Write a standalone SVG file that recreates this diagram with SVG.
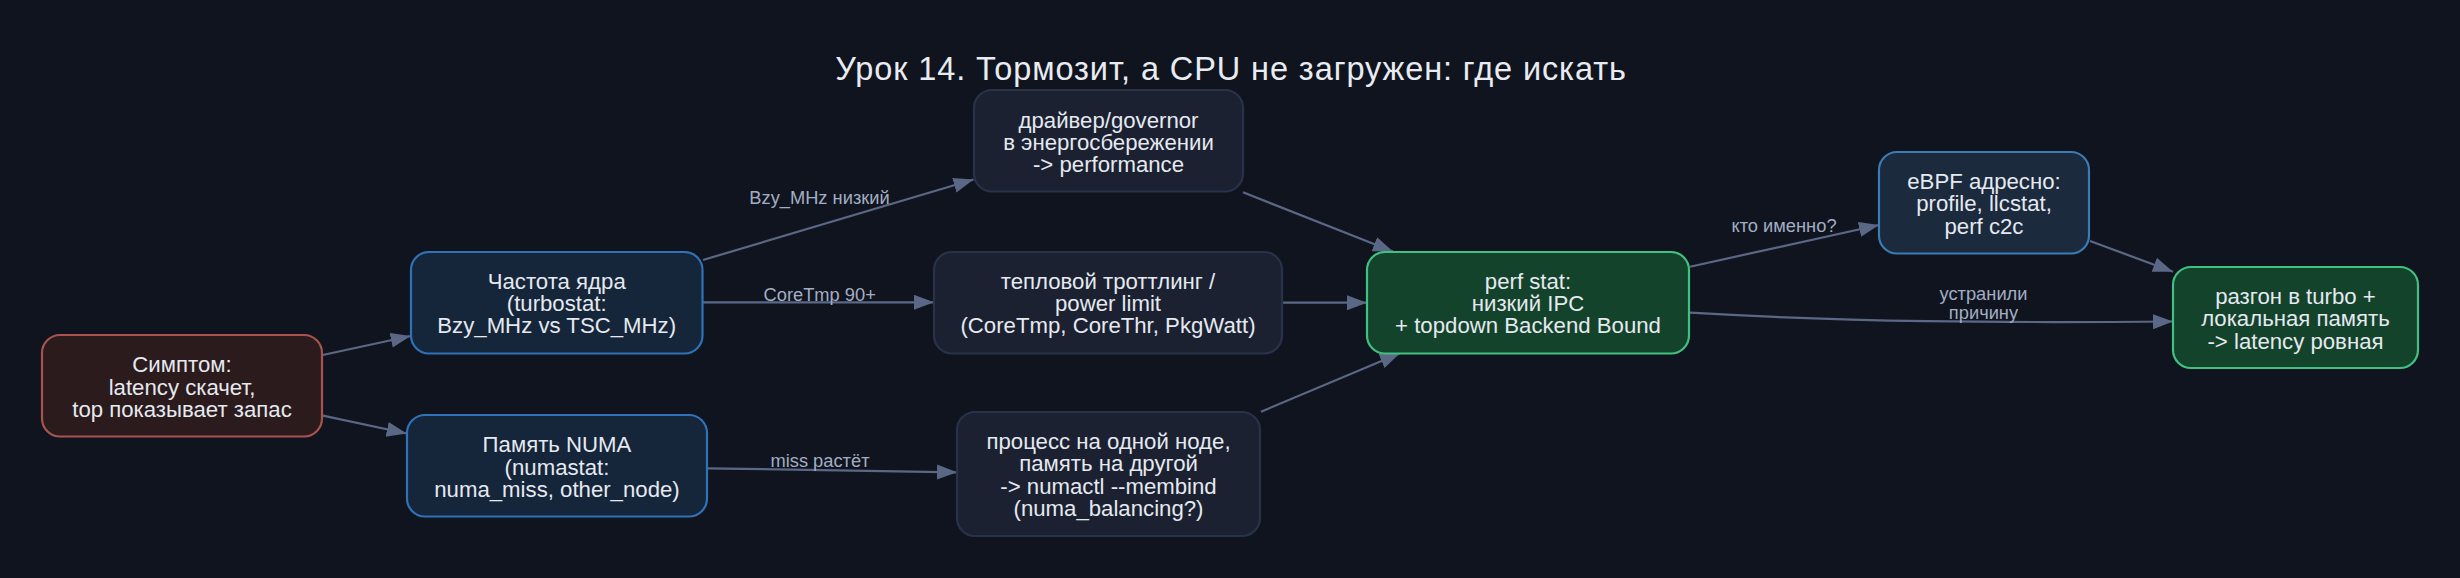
<svg xmlns="http://www.w3.org/2000/svg" width="2460" height="578" viewBox="0 0 2460 578">
<style>
  .node rect { stroke-width: 2.2; }
  .t { font-family: "Liberation Sans", Arial, sans-serif; font-size: 22.2px; fill: #e5e9f0; text-anchor: middle; }
  .title { font-family: "Liberation Sans", Arial, sans-serif; font-size: 32.5px; letter-spacing: 0.9px; fill: #e8ecf2; text-anchor: middle; }
  .lbl { font-family: "Liberation Sans", Arial, sans-serif; font-size: 18.3px; fill: #a3aec4; text-anchor: middle; }
  .edge { fill: none; stroke: #5a6886; stroke-width: 2.2; marker-end: url(#arr); }
  .sym { fill: #2c1b1d; stroke: #a8534f; }
  .blue { fill: #15253a; stroke: #2f72b8; }
  .gray { fill: #1b2131; stroke: #283349; }
  .green { fill: #14432c; stroke: #41c07f; }
  .ebpf { fill: #1b2a3d; stroke: #3a7cb5; }
</style>
<defs>
  <marker id="arr" markerUnits="userSpaceOnUse" markerWidth="22" markerHeight="16" refX="20" refY="7.5" orient="auto">
    <path d="M0,0 L20,7.5 L0,15 z" fill="#5a6886"/>
  </marker>
</defs>
<rect x="0" y="0" width="2460" height="578" fill="#10141e"/>
<text class="title" x="1231" y="80">Урок 14. Тормозит, а CPU не загружен: где искать</text>

<g id="connectors">
  <path class="edge" d="M322.7,355 L410.7,336"/>
  <path class="edge" d="M323,415.7 L406.7,433.5"/>
  <path class="edge" d="M703,260 L973.5,179.5"/>
  <path class="edge" d="M703,302.3 L934,302.3"/>
  <path class="edge" d="M707,468.3 L957,472.3"/>
  <path class="edge" d="M1243,192.3 L1393,251.5"/>
  <path class="edge" d="M1283,302.7 L1367,302.7"/>
  <path class="edge" d="M1261,411.7 L1400,353.3"/>
  <path class="edge" d="M1690,266.7 L1879,225"/>
  <path class="edge" d="M2090,241 L2173,271.7"/>
  <path class="edge" d="M1690,312.7 C1850,322 2000,323 2173,321.5"/>
  <text class="lbl" x="819.5" y="204">Bzy_MHz низкий</text>
  <text class="lbl" x="819.7" y="300.5">CoreTmp 90+</text>
  <text class="lbl" x="820" y="466.7">miss растёт</text>
  <text class="lbl" x="1784" y="231.7">кто именно?</text>
  <text class="lbl" x="1983.5" y="300">устранили</text>
  <text class="lbl" x="1983.5" y="319.3">причину</text>
</g>

<g id="symptom" class="node">
  <rect class="sym" x="42" y="335" width="280" height="101.5" rx="18"/>
  <text class="t" x="182" y="372">Симптом:</text>
  <text class="t" x="182" y="394.5">latency скачет,</text>
  <text class="t" x="182" y="416.8">top показывает запас</text>
</g>

<g id="freq" class="node">
  <rect class="blue" x="411" y="252" width="291.5" height="101.5" rx="18"/>
  <text class="t" x="556.7" y="288.7">Частота ядра</text>
  <text class="t" x="556.7" y="311">(turbostat:</text>
  <text class="t" x="556.7" y="333.3">Bzy_MHz vs TSC_MHz)</text>
</g>

<g id="numa" class="node">
  <rect class="blue" x="407" y="415" width="300" height="101.5" rx="18"/>
  <text class="t" x="557" y="452.2">Память NUMA</text>
  <text class="t" x="557" y="474.5">(numastat:</text>
  <text class="t" x="557" y="496.8">numa_miss, other_node)</text>
</g>

<g id="governor" class="node">
  <rect class="gray" x="974" y="90" width="269" height="101.5" rx="18"/>
  <text class="t" x="1108.5" y="127.5">драйвер/governor</text>
  <text class="t" x="1108.5" y="149.8">в энергосбережении</text>
  <text class="t" x="1108.5" y="172">-&gt; performance</text>
</g>

<g id="thermal" class="node">
  <rect class="gray" x="934" y="252" width="348" height="101.5" rx="18"/>
  <text class="t" x="1108" y="288.7">тепловой троттлинг /</text>
  <text class="t" x="1108" y="311">power limit</text>
  <text class="t" x="1108" y="333.3">(CoreTmp, CoreThr, PkgWatt)</text>
</g>

<g id="process" class="node">
  <rect class="gray" x="957" y="412" width="303" height="124" rx="18"/>
  <text class="t" x="1108.5" y="449">процесс на одной ноде,</text>
  <text class="t" x="1108.5" y="471.3">память на другой</text>
  <text class="t" x="1108.5" y="493.6">-&gt; numactl --membind</text>
  <text class="t" x="1108.5" y="515.9">(numa_balancing?)</text>
</g>

<g id="perf" class="node">
  <rect class="green" x="1367" y="252" width="322" height="101.5" rx="18"/>
  <text class="t" x="1528" y="288.7">perf stat:</text>
  <text class="t" x="1528" y="311">низкий IPC</text>
  <text class="t" x="1528" y="333.3">+ topdown Backend Bound</text>
</g>

<g id="ebpf" class="node">
  <rect class="ebpf" x="1879" y="152" width="210" height="101.5" rx="18"/>
  <text class="t" x="1984" y="189">eBPF адресно:</text>
  <text class="t" x="1984" y="211.3">profile, llcstat,</text>
  <text class="t" x="1984" y="233.6">perf c2c</text>
</g>

<g id="final" class="node">
  <rect class="green" x="2173" y="267" width="245" height="101" rx="18"/>
  <text class="t" x="2295.5" y="304">разгон в turbo +</text>
  <text class="t" x="2295.5" y="326.3">локальная память</text>
  <text class="t" x="2295.5" y="348.6">-&gt; latency ровная</text>
</g>
</svg>
